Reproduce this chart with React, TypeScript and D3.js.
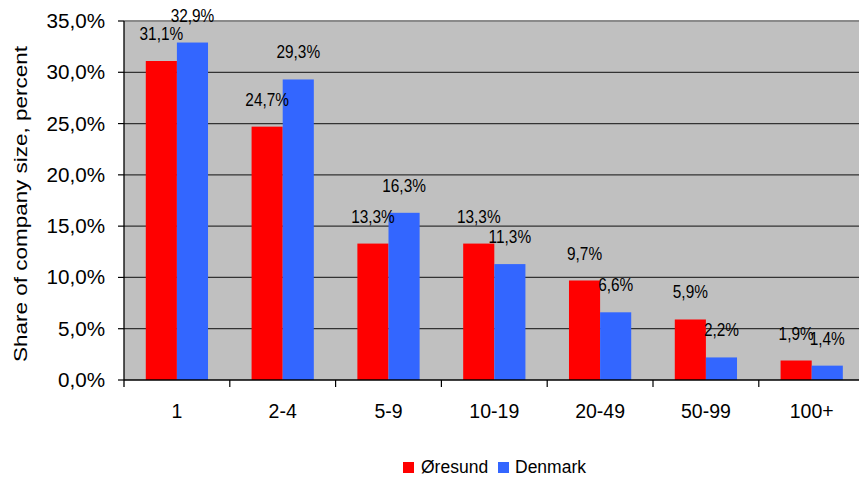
import React from 'react';
import * as d3 from 'd3';

const categories = ['1', '2-4', '5-9', '10-19', '20-49', '50-99', '100+'];
const seriesNames = ['Øresund', 'Denmark'];
const oresund = [31.1, 24.7, 13.3, 13.3, 9.7, 5.9, 1.9];
const denmark = [32.9, 29.3, 16.3, 11.3, 6.6, 2.2, 1.4];
const yTicks = [0, 5, 10, 15, 20, 25, 30, 35];

const colors = ['#FF0000', '#3366FF'];
const font = 'Arial, "Liberation Sans", sans-serif';
const fmt = (v: number) => v.toFixed(1).replace('.', ',') + '%';

export default function App() {
  const W = 859;
  const H = 478;
  const margin = { left: 124, top: 21, bottom: 380 };
  const catW = 105.8;
  const right = margin.left + catW * categories.length;

  const x = d3.scaleBand<string>().domain(categories).range([margin.left, right]).padding(0);
  const xs = d3.scaleBand<string>().domain(seriesNames).range([0, x.bandwidth()]).paddingInner(0).paddingOuter(0.7);
  const y = d3.scaleLinear().domain([0, 35]).range([margin.bottom, margin.top]);

  const values = [oresund, denmark];

  return (
    <div style={{ position: 'absolute', left: 0, top: 0 }}>
      <svg width={W} height={H} style={{ display: 'block', background: '#fff' }} fontFamily={font}>
        {/* plot area */}
        <rect x={margin.left} y={margin.top} width={right - margin.left} height={margin.bottom - margin.top} fill="#C0C0C0" />
        <line x1={margin.left} x2={right} y1={margin.top} y2={margin.top} stroke="#8a8a8a" strokeWidth={2} />
        {yTicks.slice(1, -1).map(t => (
          <line key={t} x1={margin.left} x2={right} y1={y(t)} y2={y(t)} stroke="#333" strokeWidth={1.2} />
        ))}

        {/* bars */}
        {categories.map((c, i) =>
          values.map((vals, s) => (
            <rect
              key={c + s}
              x={(x(c) as number) + (xs(seriesNames[s]) as number)}
              y={y(vals[i])}
              width={xs.bandwidth()}
              height={y(0) - y(vals[i])}
              fill={colors[s]}
            />
          ))
        )}

        {/* axes */}
        <line x1={margin.left} x2={margin.left} y1={margin.top} y2={margin.bottom + 7} stroke="#000" strokeWidth={1.3} />
        <line x1={margin.left} x2={right} y1={margin.bottom} y2={margin.bottom} stroke="#000" strokeWidth={1.3} />
        {yTicks.map(t => (
          <g key={t}>
            <line x1={margin.left - 6} x2={margin.left} y1={y(t)} y2={y(t)} stroke="#000" strokeWidth={1.2} />
            <text transform={`translate(105,${y(t) + 7}) scale(1.06,1)`} textAnchor="end" fontSize={19.5} fill="#000">{fmt(t)}</text>
          </g>
        ))}
        {categories.map((c, i) => (
          <g key={c}>
            <line x1={(x(c) as number) + catW} x2={(x(c) as number) + catW} y1={margin.bottom} y2={margin.bottom + 7} stroke="#000" strokeWidth={1.2} />
            <text x={(x(c) as number) + x.bandwidth() / 2} y={418} textAnchor="middle" fontSize={19.5} fill="#000">{c}</text>
          </g>
        ))}

        {/* data labels */}
        {categories.map((c, i) =>
          values.map((vals, s) => (
            <text
              key={'l' + c + s}
              transform={`translate(${(x(c) as number) + (xs(seriesNames[s]) as number) + xs.bandwidth() / 2},${y(vals[i]) - 21}) scale(0.88,1)`}
              textAnchor="middle"
              fontSize={17.5}
              fill="#000"
            >
              {fmt(vals[i])}
            </text>
          ))
        )}

        {/* y title */}
        <text
          transform={`translate(27,204) rotate(-90)`}
          textAnchor="middle"
          fontSize={19}
          textLength={316}
          lengthAdjust="spacingAndGlyphs"
          fill="#000"
        >
          Share of company size, percent
        </text>

        {/* legend */}
        <rect x={403} y={462} width={11} height={11} fill={colors[0]} />
        <text x={421} y={473} fontSize={17.5} fill="#000">{seriesNames[0]}</text>
        <rect x={498} y={462} width={11} height={11} fill={colors[1]} />
        <text x={515} y={473} fontSize={17.5} fill="#000">{seriesNames[1]}</text>
      </svg>
    </div>
  );
}
